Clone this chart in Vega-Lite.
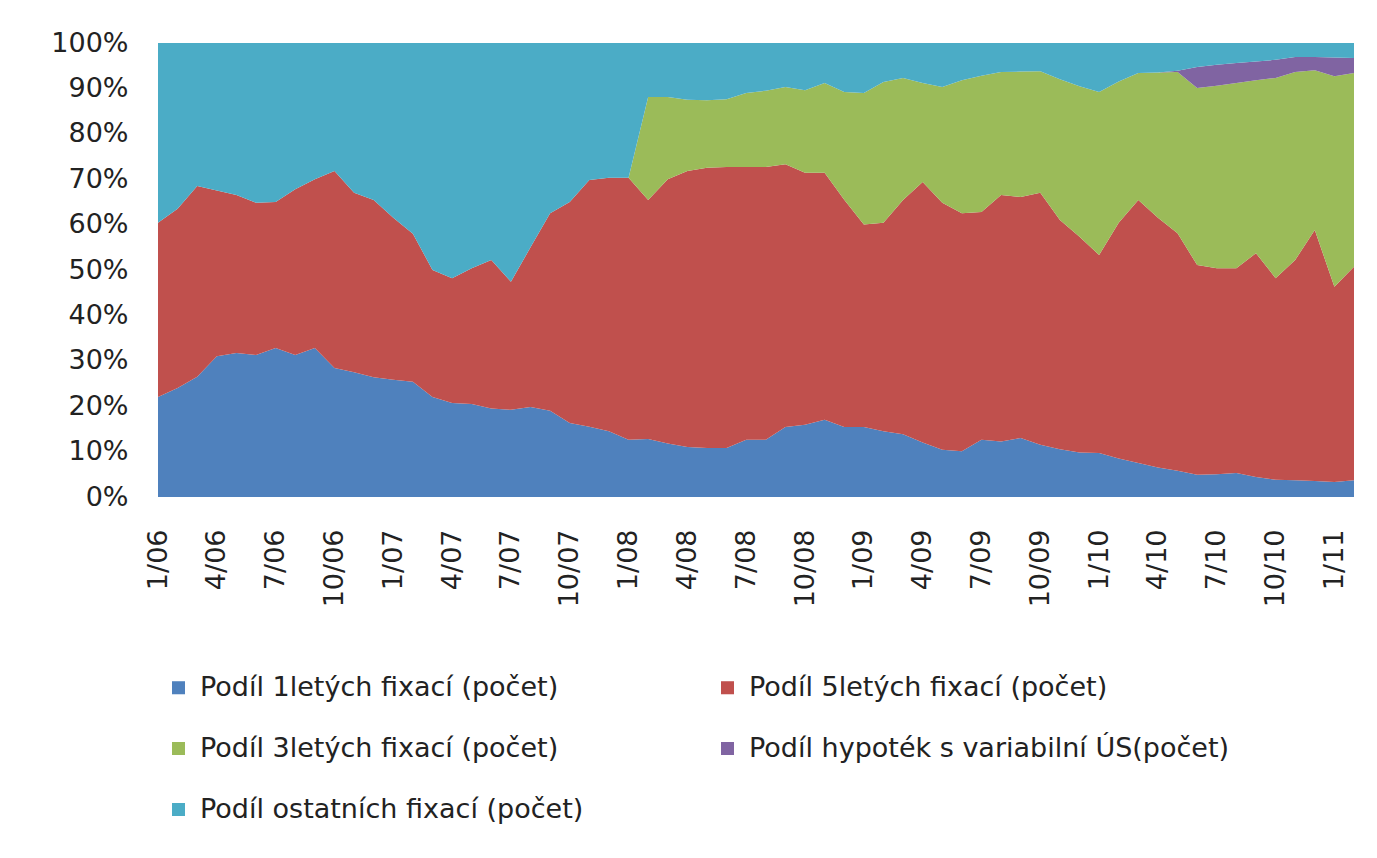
{
  "$schema": "https://vega.github.io/schema/vega-lite/v6.json",
  "width": 1196,
  "height": 454,
  "autosize": {"type": "none"},
  "padding": {"left": 158, "top": 43, "right": 23, "bottom": 361},
  "background": "#ffffff",
  "config": {"view": {"stroke": null}, "font": "DejaVu Sans"},
  "data": {"values": [
    {"m":"1/06","a":22,"b":38.4,"c":0,"d":0,"e":39.6},
    {"m":"2/06","a":24,"b":39.5,"c":0,"d":0,"e":36.5},
    {"m":"3/06","a":26.5,"b":42,"c":0,"d":0,"e":31.5},
    {"m":"4/06","a":31,"b":36.5,"c":0,"d":0,"e":32.5},
    {"m":"5/06","a":31.7,"b":34.8,"c":0,"d":0,"e":33.5},
    {"m":"6/06","a":31.3,"b":33.5,"c":0,"d":0,"e":35.2},
    {"m":"7/06","a":32.8,"b":32.2,"c":0,"d":0,"e":35},
    {"m":"8/06","a":31.3,"b":36.5,"c":0,"d":0,"e":32.2},
    {"m":"9/06","a":32.8,"b":37.2,"c":0,"d":0,"e":30},
    {"m":"10/06","a":28.4,"b":43.4,"c":0,"d":0,"e":28.2},
    {"m":"11/06","a":27.5,"b":39.5,"c":0,"d":0,"e":33},
    {"m":"12/06","a":26.4,"b":39,"c":0,"d":0,"e":34.6},
    {"m":"1/07","a":25.8,"b":35.7,"c":0,"d":0,"e":38.5},
    {"m":"2/07","a":25.4,"b":32.6,"c":0,"d":0,"e":42},
    {"m":"3/07","a":22,"b":28,"c":0,"d":0,"e":50},
    {"m":"4/07","a":20.7,"b":27.5,"c":0,"d":0,"e":51.8},
    {"m":"5/07","a":20.5,"b":29.9,"c":0,"d":0,"e":49.6},
    {"m":"6/07","a":19.5,"b":32.7,"c":0,"d":0,"e":47.8},
    {"m":"7/07","a":19.2,"b":28.2,"c":0,"d":0,"e":52.6},
    {"m":"8/07","a":19.8,"b":35.2,"c":0,"d":0,"e":45},
    {"m":"9/07","a":19,"b":43.5,"c":0,"d":0,"e":37.5},
    {"m":"10/07","a":16.3,"b":48.7,"c":0,"d":0,"e":35},
    {"m":"11/07","a":15.5,"b":54.3,"c":0,"d":0,"e":30.2},
    {"m":"12/07","a":14.5,"b":55.8,"c":0,"d":0,"e":29.7},
    {"m":"1/08","a":12.6,"b":57.7,"c":0,"d":0,"e":29.7},
    {"m":"2/08","a":12.8,"b":52.6,"c":22.7,"d":0,"e":11.9},
    {"m":"3/08","a":11.8,"b":58.2,"c":18.1,"d":0,"e":11.9},
    {"m":"4/08","a":11,"b":60.8,"c":15.7,"d":0,"e":12.5},
    {"m":"5/08","a":10.8,"b":61.7,"c":14.9,"d":0,"e":12.6},
    {"m":"6/08","a":10.8,"b":61.9,"c":14.9,"d":0,"e":12.4},
    {"m":"7/08","a":12.6,"b":60.1,"c":16.3,"d":0,"e":11},
    {"m":"8/08","a":12.6,"b":60.1,"c":16.8,"d":0,"e":10.5},
    {"m":"9/08","a":15.4,"b":57.9,"c":17,"d":0,"e":9.7},
    {"m":"10/08","a":15.9,"b":55.5,"c":18.2,"d":0,"e":10.4},
    {"m":"11/08","a":17,"b":54.4,"c":19.8,"d":0,"e":8.8},
    {"m":"12/08","a":15.4,"b":50.1,"c":23.7,"d":0,"e":10.8},
    {"m":"1/09","a":15.4,"b":44.6,"c":29,"d":0,"e":11},
    {"m":"2/09","a":14.5,"b":45.9,"c":31,"d":0,"e":8.6},
    {"m":"3/09","a":13.8,"b":51.6,"c":26.9,"d":0,"e":7.7},
    {"m":"4/09","a":12,"b":57.4,"c":21.8,"d":0,"e":8.8},
    {"m":"5/09","a":10.4,"b":54.4,"c":25.5,"d":0,"e":9.7},
    {"m":"6/09","a":10.1,"b":52.4,"c":29.3,"d":0,"e":8.2},
    {"m":"7/09","a":12.6,"b":50.2,"c":30,"d":0,"e":7.2},
    {"m":"8/09","a":12.2,"b":54.3,"c":27.1,"d":0,"e":6.4},
    {"m":"9/09","a":13,"b":53.1,"c":27.6,"d":0,"e":6.3},
    {"m":"10/09","a":11.5,"b":55.5,"c":26.8,"d":0,"e":6.2},
    {"m":"11/09","a":10.5,"b":50.5,"c":31,"d":0,"e":8},
    {"m":"12/09","a":9.8,"b":47.5,"c":33.2,"d":0,"e":9.5},
    {"m":"1/10","a":9.7,"b":43.6,"c":35.9,"d":0,"e":10.8},
    {"m":"2/10","a":8.5,"b":51.9,"c":31.1,"d":0,"e":8.5},
    {"m":"3/10","a":7.5,"b":57.9,"c":28,"d":0,"e":6.6},
    {"m":"4/10","a":6.5,"b":55,"c":32,"d":0,"e":6.5},
    {"m":"5/10","a":5.8,"b":52.3,"c":35.5,"d":0.3,"e":6.1},
    {"m":"6/10","a":4.9,"b":46.2,"c":39,"d":4.6,"e":5.3},
    {"m":"7/10","a":5,"b":45.4,"c":40.2,"d":4.6,"e":4.8},
    {"m":"8/10","a":5.3,"b":45.1,"c":40.8,"d":4.4,"e":4.4},
    {"m":"9/10","a":4.4,"b":49.3,"c":38.1,"d":4.1,"e":4.1},
    {"m":"10/10","a":3.8,"b":44.4,"c":44.1,"d":4,"e":3.7},
    {"m":"11/10","a":3.7,"b":48.5,"c":41.4,"d":3.3,"e":3.1},
    {"m":"12/10","a":3.5,"b":55.3,"c":35.2,"d":2.9,"e":3.1},
    {"m":"1/11","a":3.3,"b":43,"c":46.4,"d":4.1,"e":3.2},
    {"m":"2/11","a":3.7,"b":47,"c":42.7,"d":3.3,"e":3.3}
  ]},
  "transform": [{"fold": ["a","b","c","d","e"], "as": ["k","v"]}],
  "mark": {"type": "area", "interpolate": "linear"},
  "encoding": {
    "x": {
      "field": "m", "type": "ordinal", "sort": null,
      "scale": {"type": "point", "padding": 0},
      "axis": {
        "values": ["1/06","4/06","7/06","10/06","1/07","4/07","7/07","10/07","1/08","4/08","7/08","10/08","1/09","4/09","7/09","10/09","1/10","4/10","7/10","10/10","1/11"],
        "labelAngle": -90, "labelFontSize": 27, "labelFont": "DejaVu Sans", "labelColor": "#222222",
        "ticks": false, "domain": false, "grid": false, "labelPadding": 32, "title": null
      }
    },
    "y": {
      "field": "v", "type": "quantitative", "stack": "normalize",
      "scale": {"domain": [0, 1], "nice": false},
      "axis": {
        "values": [0,0.1,0.2,0.3,0.4,0.5,0.6,0.7,0.8,0.9,1],
        "format": ".0%", "grid": false, "ticks": false, "tickSize": 0, "domain": false,
        "labelPadding": 30, "labelFontSize": 27, "labelFont": "DejaVu Sans", "labelColor": "#222222", "title": null
      }
    },
    "color": {
      "field": "k", "type": "nominal",
      "scale": {"domain": ["a","b","c","d","e"], "range": ["#4F81BD","#C0504D","#9BBB59","#8064A2","#4BACC6"]},
      "legend": {
        "orient": "none", "legendX": 7, "legendY": 631, "columns": 2, "direction": "horizontal",
        "padding": 0,
        "symbolType": "square", "symbolSize": 170, "symbolStrokeWidth": 0,
        "labelFontSize": 27, "labelFont": "DejaVu Sans", "labelColor": "#222222", "labelLimit": 0,
        "columnPadding": 130, "rowPadding": 33, "labelOffset": 8, "title": null,
        "labelExpr": "datum.value == 'a' ? 'Podíl 1letých fixací (počet)' : datum.value == 'b' ? 'Podíl 5letých fixací (počet)' : datum.value == 'c' ? 'Podíl 3letých fixací (počet)' : datum.value == 'd' ? 'Podíl hypoték s variabilní ÚS(počet)' : 'Podíl ostatních fixací (počet)'"
      }
    },
    "order": {"field": "k", "sort": "ascending"}
  }
}
